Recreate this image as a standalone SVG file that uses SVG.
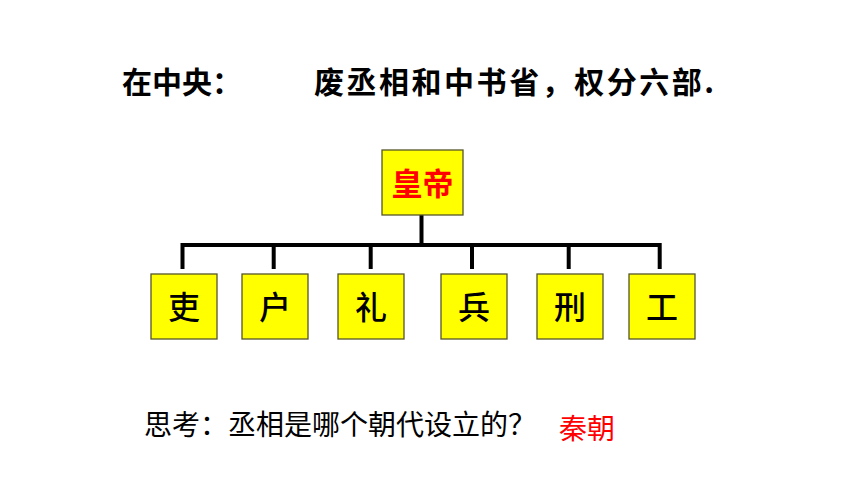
<svg xmlns="http://www.w3.org/2000/svg" width="860" height="484" viewBox="0 0 860 484">
<style>
.box{fill:#FFFF00;stroke:#55552a;stroke-width:1.3}
.lbl{font-family:"Noto Sans CJK SC","Noto Sans",sans-serif;font-size:32px;font-weight:500;fill:#000;text-anchor:middle}
.emp{font-family:"Noto Sans CJK SC","Noto Sans",sans-serif;font-size:31px;font-weight:bold;fill:#FF0000;text-anchor:middle}
.title{font-family:"Noto Sans CJK SC","Noto Sans",sans-serif;font-size:30px;font-weight:bold;fill:#000}
.q{font-family:"Noto Sans CJK SC","Noto Sans",sans-serif;font-size:28px;fill:#000}
.ans{font-family:"Noto Sans CJK SC","Noto Sans",sans-serif;font-size:28px;fill:#FF0000}
.ln{fill:none;stroke:#000;stroke-width:4;stroke-linejoin:miter;stroke-linecap:butt}
</style>
<rect width="860" height="484" fill="#fff"/>
<text class="title" x="122" y="93">在中央：</text>
<text class="title" x="314" y="93" textLength="400" lengthAdjust="spacing">废丞相和中书省，权分六部.</text>
<g id="connectors">
<path class="ln" d="M421.5,215 V245"/>
<path class="ln" d="M182.5,269 V245 H659.7 V269"/>
<path class="ln" d="M273.7,245 V269"/>
<path class="ln" d="M370.7,245 V269"/>
<path class="ln" d="M472,245 V269"/>
<path class="ln" d="M568.7,245 V269"/>
</g>
<g id="emperor"><rect class="box" x="382" y="150" width="81" height="65"/><text class="emp" x="422.5" y="194.5">皇帝</text></g>
<g id="li"><rect class="box" x="151" y="274" width="66" height="65"/><text class="lbl" x="184" y="319">吏</text></g>
<g id="hu"><rect class="box" x="242" y="274" width="66" height="65"/><text class="lbl" x="275" y="319">户</text></g>
<g id="li2"><rect class="box" x="338" y="274" width="66" height="65"/><text class="lbl" x="371" y="319">礼</text></g>
<g id="bing"><rect class="box" x="441" y="274" width="66" height="65"/><text class="lbl" x="474" y="319">兵</text></g>
<g id="xing"><rect class="box" x="537" y="274" width="66" height="65"/><text class="lbl" x="570" y="319">刑</text></g>
<g id="gong"><rect class="box" x="629" y="274" width="66" height="65"/><text class="lbl" x="662" y="319">工</text></g>
<text class="q" x="144" y="435">思考：丞相是哪个朝代设立的？</text>
<text class="ans" x="559" y="439">秦朝</text>
</svg>
